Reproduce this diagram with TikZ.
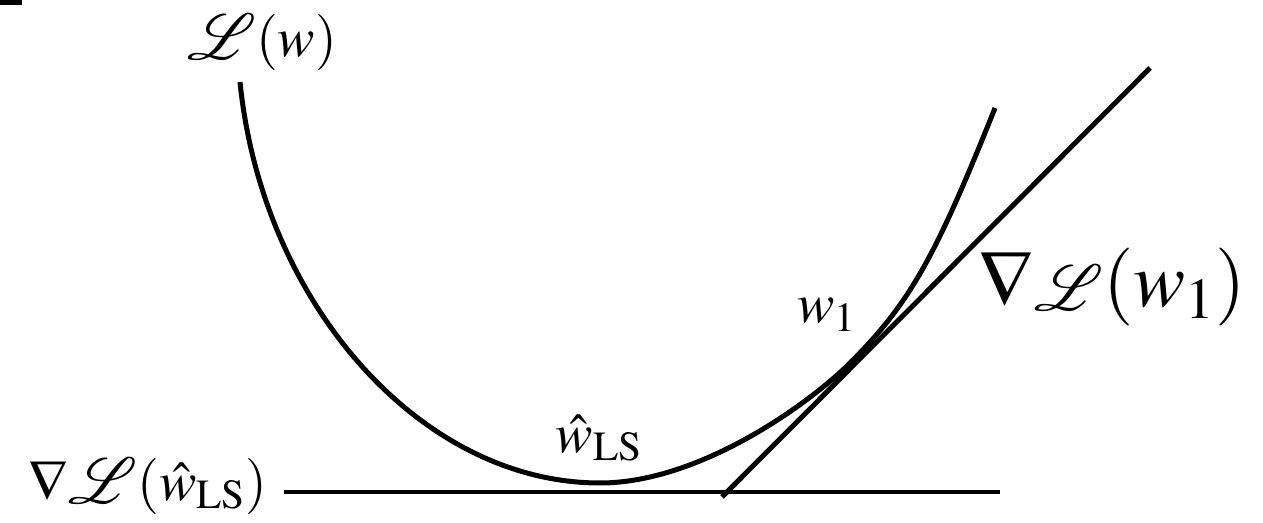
\documentclass[tikz,border=0pt]{standalone}
\usepackage{mathptmx}
\usepackage{mathrsfs}
\newcommand{\bigL}{\mathord{\raisebox{-0.05em}{\scalebox{1.3}{$\mathscr{L}$}}}}
\begin{document}
\begin{tikzpicture}[x=0.5pt,y=-0.5pt,
  curve/.style={line width=2.5pt,line cap=butt},
  lbl/.style={inner sep=0pt,anchor=center},
  big/.style={font=\fontsize{28}{32}\selectfont},
  bigger/.style={font=\fontsize{39}{46}\selectfont}]
\useasboundingbox (0,0) rectangle (1263,523);
\fill (0,0) rectangle (22,5);
% loss curve
\coordinate (c0) at (240,82);
\coordinate (cmin) at (600,483);
\coordinate (ct) at (850,363);
\coordinate (c1) at (995,108);
\draw[curve] (c0) .. controls (262,302) and (420,483) .. (cmin)
  .. controls (700,483) and (810,403) .. (ct)
  .. controls (910,303) and (935,258) .. (c1);
% tangent lines
\coordinate (ha) at (284,492);
\coordinate (hb) at (1000,492);
\coordinate (ta) at (722,497);
\coordinate (tb) at (1150,68);
\draw[line width=2.4pt] (ha) -- (hb);
\draw[line width=2.5pt] (ta) -- (tb);
% labels
\node[lbl,big] (L) at (262,42) {$\bigL(w)$};
\node[lbl,big] (wls) at (599,438) {$\hat{w}_{\mathrm{LS}}$};
\node[lbl,big] (w1) at (827,315) {$w_1$};
\node[lbl,bigger] (gw1) at (1112,287) {$\nabla\bigL(w_1)$};
\node[lbl,big,anchor=east] (gls) at (268,486) {$\nabla\bigL(\hat{w}_{\mathrm{LS}})$};
\end{tikzpicture}
\end{document}
